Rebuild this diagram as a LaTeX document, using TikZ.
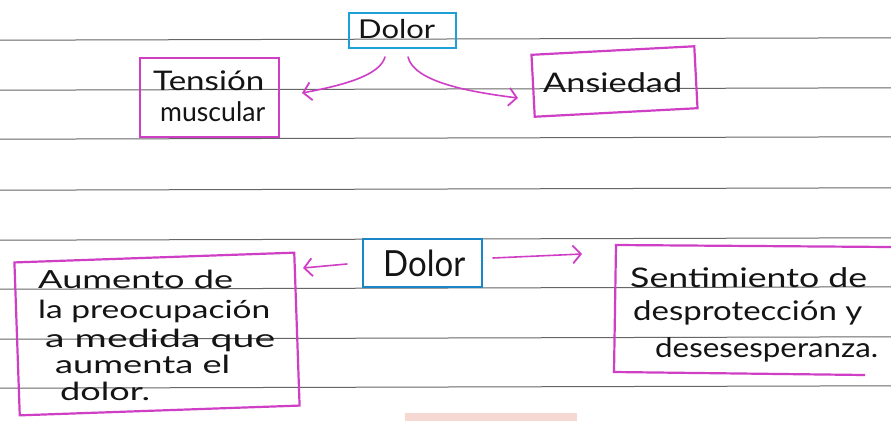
\documentclass[tikz,border=0pt]{standalone}
\usepackage{fontspec}
\setmainfont{Lato}
\usepackage{graphicx}
\usetikzlibrary{arrows.meta}
\definecolor{mag}{HTML}{CF3FC6}
\definecolor{blu}{HTML}{1E9FD8}
\definecolor{blutwo}{HTML}{1A86C8}
\definecolor{rulec}{HTML}{666666}
\definecolor{smudge}{HTML}{F6D8D2}
\newcommand{\hw}[2]{\resizebox{#1pt}{\height}{#2}}
\begin{document}
\begin{tikzpicture}[x=1pt,y=-1pt,
  txt/.style={inner sep=0pt,anchor=base west,text=black!92},
  mbox/.style={draw=mag,line width=2.2pt,minimum width=#1,inner sep=0pt},
  bbox/.style={draw=#1,line width=2.4pt,inner sep=0pt},
  arr/.style={draw=mag,line width=1.6pt,line cap=round,-{Straight Barb[length=8pt,width=18pt,line width=1.8pt]}},
  ruleline/.style={draw=rulec,line width=1pt}
]
\fill[white] (0,0) rectangle (891,421);
\useasboundingbox (0,0) rectangle (891,421);
% ruled paper
\foreach \yy in {39,89,138,189,239,288,338,387}
  \draw[ruleline] (0,\yy+1.2) -- (891,\yy-1.2);
\fill[smudge] (405,413) rectangle (577,421);

% boxes
\node[bbox=blu,minimum width=107pt,minimum height=35pt] (dolorAbox) at (402.5,30.5) {};
\node[mbox=139pt,minimum height=79pt] (tensionbox) at (209.5,97.5) {};
\node[mbox=163pt,minimum height=62pt,rotate=3] (ansiedadbox) at (614.5,81.5) {};
\node[bbox=blutwo,minimum width=119pt,minimum height=48pt] (dolorBbox) at (422.5,263) {};
\node[mbox=280pt,minimum height=153pt,rotate=2] (aumentobox) at (157,334) {};
\draw[mag,line width=2.2pt] (891,247) -- (616,245) -- (614,372) -- (865,375);

% texts
\node[txt,font=\fontsize{26}{30}\selectfont] (dolorA) at (358,38) {\hw{77}{Dolor}};
\node[txt,font=\fontsize{27}{30}\selectfont] (tension) at (153,90) {\hw{111}{Tensión}};
\node[txt,font=\fontsize{27}{30}\selectfont] (muscular) at (160,121) {\hw{105}{muscular}};
\node[txt,font=\fontsize{27}{30}\selectfont] (ansiedad) at (543,92) {\hw{139}{Ansiedad}};
\node[txt,font=\fontsize{36}{40}\selectfont] (dolorB) at (383,276) {\hw{82}{Dolor}};
\node[txt,font=\fontsize{25}{30}\selectfont] (l1) at (38,288) {\hw{195}{Aumento de}};
\node[txt,font=\fontsize{25}{30}\selectfont] (l2) at (38,318) {\hw{232}{la preocupación}};
\node[txt,font=\fontsize{25}{30}\selectfont] (l3) at (45,347) {\hw{230}{a medida que}};
\node[txt,font=\fontsize{25}{30}\selectfont] (l4) at (55,373) {\hw{175}{aumenta el}};
\node[txt,font=\fontsize{25}{30}\selectfont] (l5) at (60,400) {\hw{90}{dolor.}};
\node[txt,font=\fontsize{27}{30}\selectfont] (r1) at (630,287) {\hw{237}{Sentimiento de}};
\node[txt,font=\fontsize{27}{30}\selectfont] (r2) at (633,320) {\hw{229}{desprotección y}};
\node[txt,font=\fontsize{27}{30}\selectfont] (r3) at (655,357) {\hw{223}{desesesperanza.}};

% connectors
\coordinate (a1s) at (385,57);
\coordinate (a1e) at (302,93);
\coordinate (a2s) at (408,57);
\coordinate (a2e) at (518,98);
\coordinate (b1s) at (347,264);
\coordinate (b1e) at (303,268);
\coordinate (b2s) at (493,258);
\coordinate (b2e) at (582,254);
\draw[arr] (a1s) .. controls (380,75) and (345,85) .. (a1e);
\draw[arr] (a2s) .. controls (414,82) and (470,92) .. (a2e);
\draw[arr] (b1s) -- (b1e);
\draw[arr] (b2s) -- (b2e);
\end{tikzpicture}
\end{document}
